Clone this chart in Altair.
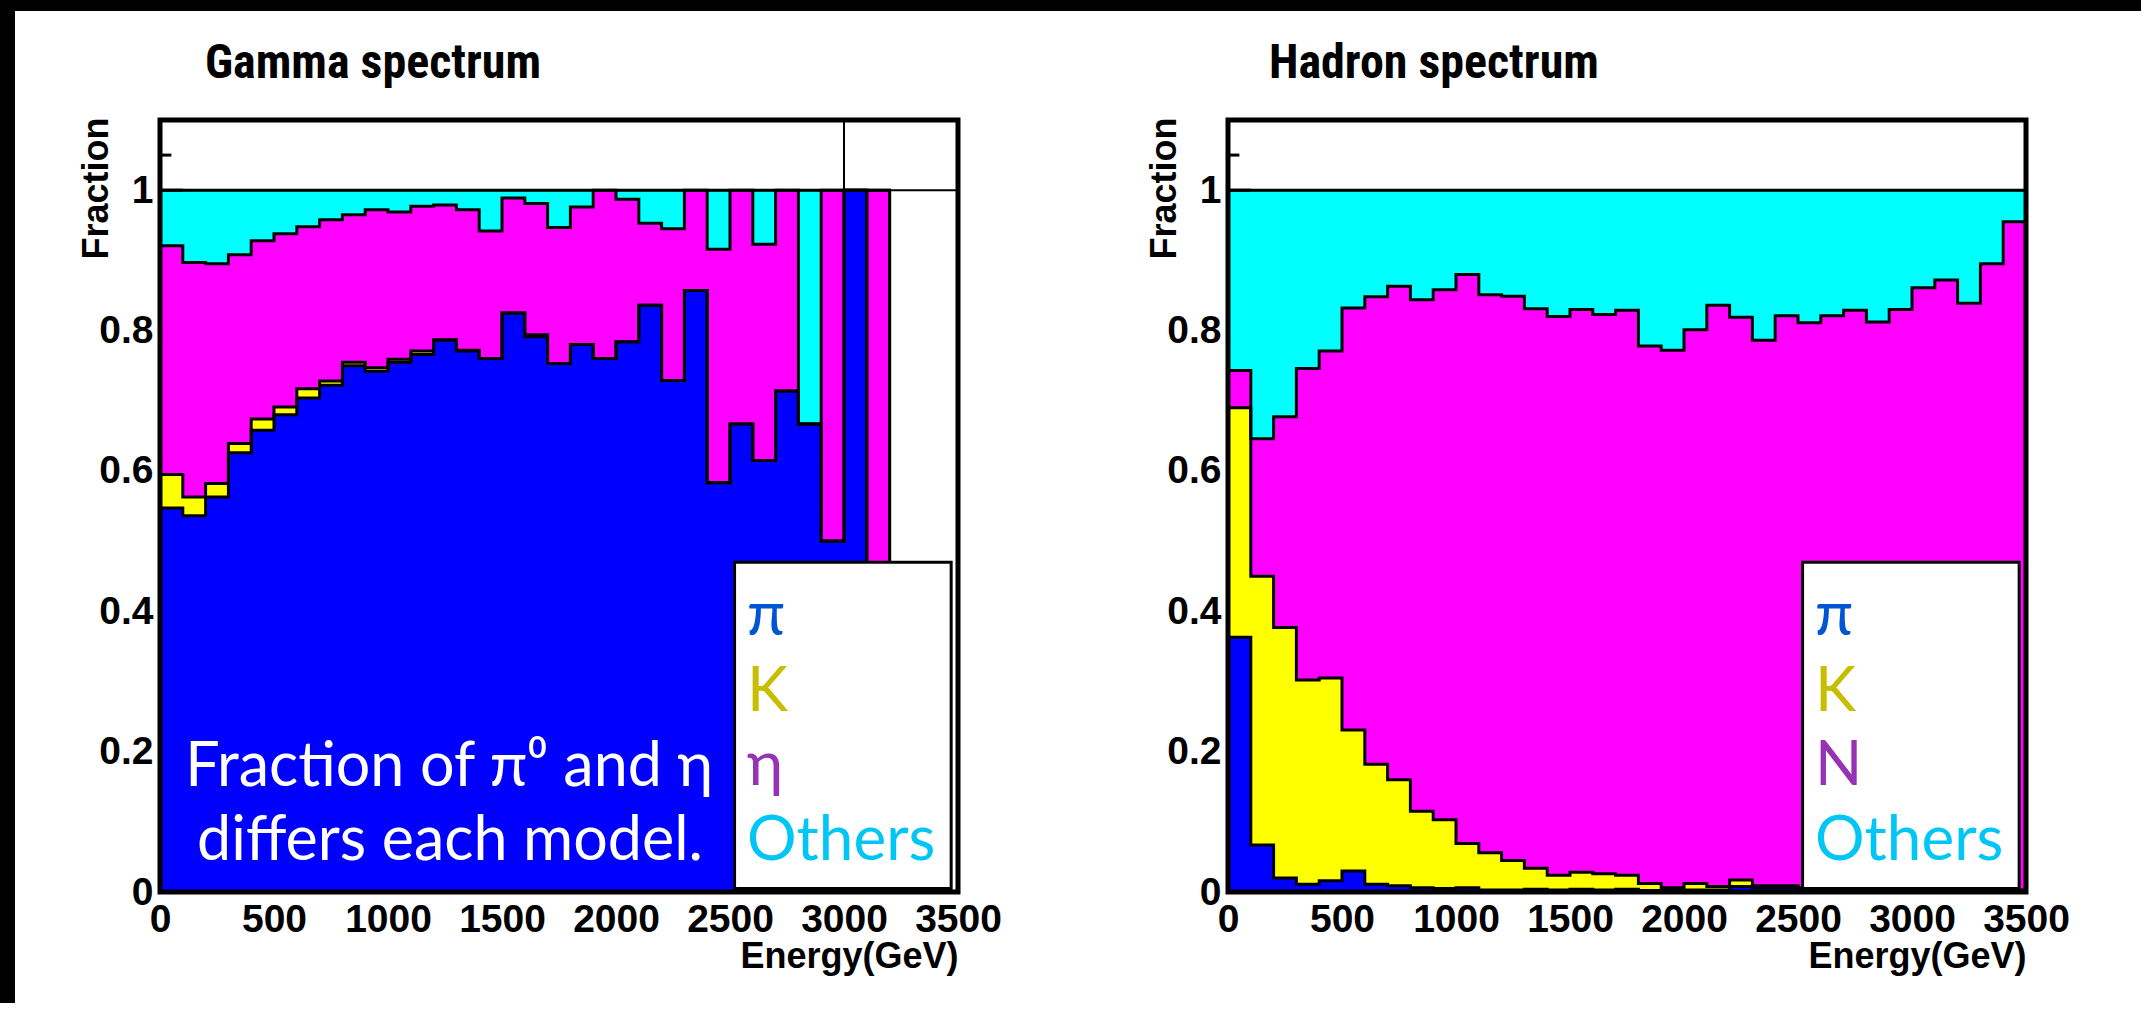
import altair as alt
import pandas as pd

BIN = 100  # GeV per bin
species = ["pi", "K", "third", "Others"]
fill_colors = ["#0000ff", "#ffff00", "#ff00ff", "#00ffff"]

# ---- Gamma spectrum: fraction per parent species, 100 GeV bins from 0 GeV ----
gamma_pi = [0.547, 0.536, 0.563, 0.626, 0.658, 0.680, 0.704, 0.722, 0.750, 0.742,
            0.755, 0.766, 0.786, 0.771, 0.760, 0.825, 0.791, 0.753, 0.780, 0.760,
            0.784, 0.836, 0.729, 0.857, 0.583, 0.667, 0.615, 0.714, 0.667, 0.500,
            1.000, 0.000]
gamma_k = [0.048, 0.027, 0.019, 0.013, 0.016, 0.011, 0.013, 0.006, 0.005, 0.005,
           0.004, 0.005, 0.001, 0.001, 0.000, 0.000, 0.003, 0.000, 0.000, 0.000,
           0.000, 0.000, 0.000, 0.000, 0.000, 0.000, 0.000, 0.000, 0.000, 0.000,
           0.000, 0.000]
gamma_eta = [0.326, 0.334, 0.313, 0.269, 0.254, 0.247, 0.231, 0.230, 0.210, 0.225,
             0.210, 0.206, 0.192, 0.200, 0.182, 0.164, 0.187, 0.194, 0.196, 0.240,
             0.203, 0.117, 0.216, 0.143, 0.333, 0.333, 0.308, 0.286, 0.000, 0.500,
             0.000, 1.000]
gamma_others = [0.079, 0.103, 0.105, 0.092, 0.072, 0.062, 0.052, 0.042, 0.035, 0.028,
                0.031, 0.023, 0.021, 0.028, 0.058, 0.011, 0.019, 0.053, 0.024, 0.000,
                0.013, 0.047, 0.055, 0.000, 0.084, 0.000, 0.077, 0.000, 0.333, 0.000,
                0.000, 0.000]

# ---- Hadron spectrum ----
hadron_pi = [0.363, 0.067, 0.020, 0.011, 0.016, 0.030, 0.011, 0.009, 0.006, 0.005,
             0.006, 0.003, 0.003, 0.004, 0.003, 0.004, 0.003, 0.004, 0.002, 0.002,
             0.003, 0.003, 0.008, 0.006, 0.006, 0.002, 0.002, 0.002, 0.002, 0.002,
             0.002, 0.002, 0.002, 0.002, 0.002]
hadron_k = [0.327, 0.383, 0.357, 0.291, 0.289, 0.201, 0.171, 0.151, 0.109, 0.098,
            0.063, 0.053, 0.042, 0.030, 0.021, 0.024, 0.023, 0.020, 0.010, 0.004,
            0.009, 0.005, 0.009, 0.003, 0.003, 0.004, 0.002, 0.002, 0.001, 0.001,
            0.001, 0.001, 0.001, 0.001, 0.001]
hadron_n = [0.053, 0.196, 0.300, 0.444, 0.466, 0.601, 0.666, 0.703, 0.729, 0.755,
            0.811, 0.795, 0.804, 0.797, 0.796, 0.802, 0.797, 0.805, 0.766, 0.766,
            0.789, 0.828, 0.802, 0.777, 0.812, 0.805, 0.817, 0.825, 0.809, 0.827,
            0.858, 0.869, 0.836, 0.892, 0.952]
hadron_others = [0.257, 0.354, 0.323, 0.254, 0.229, 0.168, 0.152, 0.137, 0.156, 0.142,
                 0.120, 0.149, 0.151, 0.169, 0.180, 0.170, 0.177, 0.171, 0.222, 0.228,
                 0.199, 0.164, 0.181, 0.214, 0.179, 0.189, 0.179, 0.171, 0.188, 0.170,
                 0.139, 0.128, 0.161, 0.105, 0.045]

x_ticks = [0, 500, 1000, 1500, 2000, 2500, 3000, 3500]
y_ticks = [0, 0.2, 0.4, 0.6, 0.8, 1]

gamma_legend = ["π", "K", "η", "Others"]
hadron_legend = ["π", "K", "N", "Others"]
legend_text_colors = ["#0055d2", "#c8be00", "#9632b4", "#00c6f5"]
note_lines = ["Fraction of π⁰ and η", "differs each model."]

W, H = 798, 772
FONT = "Liberation Sans"
TITLE_FONT = "Roboto Condensed, Liberation Sans"

xscale = alt.Scale(domain=[0, 3500], nice=False, zero=False)
yscale = alt.Scale(domain=[0, 1.1], nice=False, zero=False)

x_axis = alt.Axis(values=x_ticks, format="d", labelFont=FONT, labelFontSize=39,
                  labelFontWeight="bold", labelColor="black", labelPadding=39,
                  labelBaseline="alphabetic", labelFlush=False, labelOverlap=False,
                  ticks=False, tickSize=0, domain=False, grid=False,
                  title="Energy(GeV)", titleFont=FONT, titleFontSize=36,
                  titleFontWeight="bold", titleColor="black", titleAlign="right",
                  titleBaseline="alphabetic", titleX=W, titleY=75)
y_axis = alt.Axis(values=y_ticks, format="~g", labelFont=FONT, labelFontSize=39,
                  labelFontWeight="bold", labelColor="black", labelPadding=7,
                  labelFlush=False, labelOverlap=False,
                  ticks=False, tickSize=0, domain=False, grid=False,
                  title="Fraction", titleFont=FONT, titleFontSize=36,
                  titleFontWeight="bold", titleColor="black", titleAngle=270,
                  titleAlign="right", titleBaseline="alphabetic",
                  titleX=-53, titleY=-3)

X = alt.X("x:Q", scale=xscale, axis=x_axis)
Y = alt.Y("y:Q", scale=yscale, axis=y_axis, stack=None)


def build(fracs):
    n = len(fracs[0])
    area_rows, line_rows = [], []
    for k, name in enumerate(species):
        pts = []
        for i in range(n):
            bot = sum(f[i] for f in fracs[:k])
            top = bot + fracs[k][i]
            pts.append((i * BIN, round(top, 4), round(bot, 4)))
        pts.append((n * BIN, pts[-1][1], pts[-1][2]))
        for x, t, b in pts:
            area_rows.append({"x": x, "y": t, "y2": b, "layer": name})
        for o, (x, t, b) in enumerate(pts):
            line_rows.append({"x": x, "y": t, "layer": name, "o": o})
        line_rows.append({"x": n * BIN, "y": 0.0, "layer": name, "o": len(pts)})
    return pd.DataFrame(area_rows), pd.DataFrame(line_rows)


def panel(fracs, title, title_dx, legend_labels, left=False):
    area_df, line_df = build(fracs)
    one = pd.DataFrame({"a": [0]})
    areas = alt.Chart(area_df).mark_area(interpolate="step-after").encode(
        x=X, y=Y, y2="y2:Q",
        color=alt.Color("layer:N", scale=alt.Scale(domain=species, range=fill_colors), legend=None))
    lines = alt.Chart(line_df).mark_line(interpolate="step-after", color="black", strokeWidth=3).encode(
        x=X, y=Y, detail="layer:N", order="o:Q")
    one_line = alt.Chart(pd.DataFrame({"x": [0], "x2": [3500], "y": [1.0]})).mark_rule(
        color="black", strokeWidth=2).encode(x=X, x2="x2:Q", y=Y)
    ticks = alt.Chart(pd.DataFrame({"x": [0, 0], "x2": [100, 50], "y": [1.0, 1.05]})).mark_rule(
        color="black", strokeWidth=3).encode(x=X, x2="x2:Q", y=Y)
    box = alt.Chart(pd.DataFrame({"x": [2520], "x2": [3470], "y": [0.47], "y2": [0.005]})).mark_rect(
        fill="white", stroke="black", strokeWidth=3).encode(x=X, x2="x2:Q", y=Y, y2="y2:Q")
    leg_df = pd.DataFrame({"x": [2575] * 4, "y": [0.366, 0.258, 0.152, 0.0456],
                           "label": legend_labels, "c": legend_text_colors})
    leg_text = alt.Chart(leg_df).mark_text(font="Lato", fontSize=62, align="left",
                                           baseline="alphabetic").encode(
        x=X, y=Y, text="label:N", color=alt.Color("c:N", scale=None))
    frame = alt.Chart(pd.DataFrame({"x": [0], "x2": [3500], "y": [0.0], "y2": [1.1]})).mark_rect(
        fillOpacity=0, stroke="black", strokeWidth=5).encode(x=X, x2="x2:Q", y=Y, y2="y2:Q")
    title_text = alt.Chart(pd.DataFrame({"t": [title]})).mark_text(
        font=TITLE_FONT, fontSize=48, fontWeight="bold", color="black", align="left",
        baseline="alphabetic").encode(x=alt.value(title_dx), y=alt.value(-42), text="t:N")
    layers = [areas, lines, one_line, ticks]
    if left:
        vline = alt.Chart(pd.DataFrame({"x": [3000], "y": [1.0], "y2": [1.1]})).mark_rule(
            color="black", strokeWidth=2).encode(x=X, y=Y, y2="y2:Q")
        layers.append(vline)
    layers += [box, leg_text, frame, title_text]
    if left:
        note_df = pd.DataFrame({"x": [1268, 1272], "y": [0.151, 0.0456], "label": note_lines})
        note = alt.Chart(note_df).mark_text(font="Lato", fontSize=61, align="center",
                                            baseline="alphabetic", color="white").encode(
            x=X, y=Y, text="label:N")
        band_left = alt.Chart(one).mark_rect(color="black").encode(
            x=alt.value(-160), x2=alt.value(-145), y=alt.value(-120), y2=alt.value(883))
        band_top = alt.Chart(one).mark_rect(color="black").encode(
            x=alt.value(-160), x2=alt.value(1981), y=alt.value(-120), y2=alt.value(-109))
        layers += [note, band_left, band_top]
    return alt.layer(*layers).properties(width=W, height=H)


gamma = panel([gamma_pi, gamma_k, gamma_eta, gamma_others], "Gamma spectrum", 45, gamma_legend, left=True)
hadron = panel([hadron_pi, hadron_k, hadron_n, hadron_others], "Hadron spectrum", 41, hadron_legend)

chart = alt.hconcat(gamma, hadron, spacing=270, bounds="flush").properties(
    padding=0, background="white").configure_view(stroke="transparent", strokeWidth=0)

chart.save("out.html", embed_options={"renderer": "svg", "actions": False})
